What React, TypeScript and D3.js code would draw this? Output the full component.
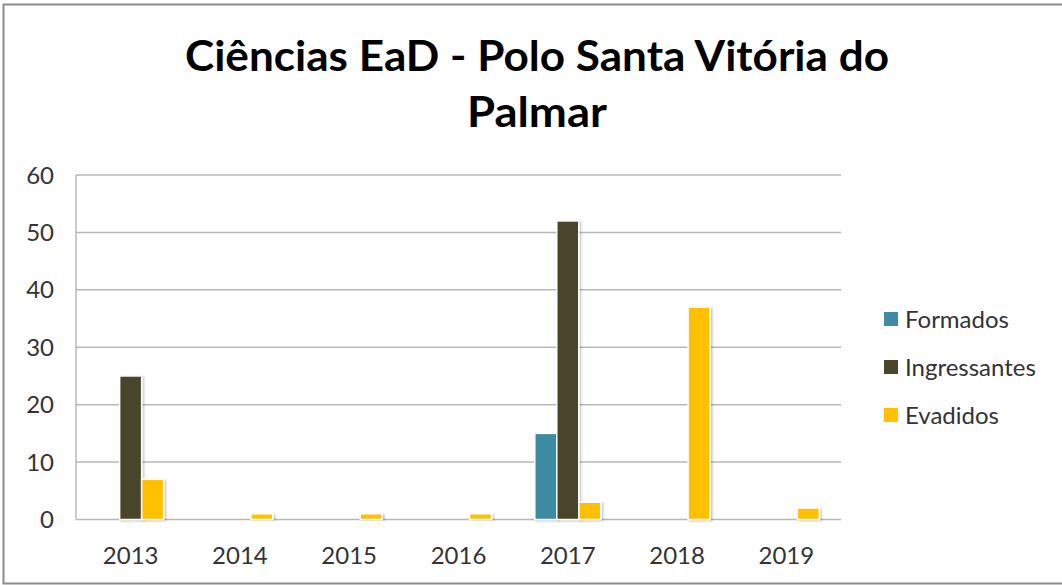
import React from "react";
import * as d3 from "d3";

const categories = ["2013", "2014", "2015", "2016", "2017", "2018", "2019"];
const seriesNames = ["Formados", "Ingressantes", "Evadidos"];
const formados = [0, 0, 0, 0, 15, 0, 0];
const ingressantes = [25, 0, 0, 0, 52, 0, 0];
const evadidos = [7, 1, 1, 1, 3, 37, 2];
const yTicks = [0, 10, 20, 30, 40, 50, 60];
const colors = ["#3E8BA3", "#4A452B", "#FFC000"];
const titleLines = ["Ciências EaD - Polo Santa Vitória do", "Palmar"];

export default function App() {
  const W = 1062, H = 585;
  const left = 76, right = 841, top = 175, bottom = 519.5;
  const x = d3.scaleBand<string>().domain(categories).range([left, right]).paddingInner(0.396).paddingOuter(0.198);
  const xs = d3.scaleBand<string>().domain(seriesNames).range([0, x.bandwidth()]).padding(0);
  const y = d3.scaleLinear().domain([0, 60]).range([bottom, top]);
  const series = [formados, ingressantes, evadidos];
  const font = "Lato, 'Open Sans', sans-serif";
  return (
    <svg width={W} height={H} style={{ position: "absolute", left: 0, top: 0 }}>
      <defs>
        <filter id="sh" x="-30%" y="-10%" width="160%" height="130%">
          <feDropShadow dx="1.5" dy="1" stdDeviation="1.2" floodColor="#000" floodOpacity="0.25" />
        </filter>
      </defs>
      <rect x={0} y={0} width={W} height={H} fill="#fff" />
      <rect x={3.5} y={4.5} width={W + 10} height={H - 6} fill="#fff" stroke="#8c8c8c" strokeWidth={2} />
      {titleLines.map((t, i) => (
        <text key={t} x={537} y={71 + i * 56} textAnchor="middle" fontFamily={font} fontWeight="bold" fontSize={42}
          textLength={i === 0 ? 704 : 140} lengthAdjust="spacingAndGlyphs" fill="#000">{t}</text>
      ))}
      {yTicks.map(t => (
        <g key={t}>
          <line x1={left} x2={right} y1={y(t)} y2={y(t)} stroke="#b8b8b8" strokeWidth={1.5} />
          <text x={54} y={y(t)} dy="0.36em" textAnchor="end" fontFamily={font} fontSize={24} fill="#333">{t}</text>
        </g>
      ))}
      <line x1={left} x2={left} y1={top} y2={bottom} stroke="#b8b8b8" strokeWidth={1.5} />
      {categories.map((c, ci) => (
        <g key={c}>
          {series.map((s, si) => s[ci] > 0 ? (
            <rect key={si} x={(x(c) as number) + (xs(seriesNames[si]) as number)} y={y(s[ci])}
              width={xs.bandwidth()} height={y(0) - y(s[ci])} fill={colors[si]} stroke="#fff" strokeWidth={1.5} filter="url(#sh)" />
          ) : null)}
          <text x={(x(c) as number) + x.bandwidth() / 2} y={564} textAnchor="middle" fontFamily={font} fontSize={24} fill="#333">{c}</text>
        </g>
      ))}
      {seriesNames.map((n, i) => (
        <g key={n}>
          <rect x={884} y={312 + i * 48} width={14} height={14} fill={colors[i]} />
          <text x={905} y={319 + i * 48} dy="0.36em" fontFamily={font} fontSize={24} fill="#333">{n}</text>
        </g>
      ))}
    </svg>
  );
}
